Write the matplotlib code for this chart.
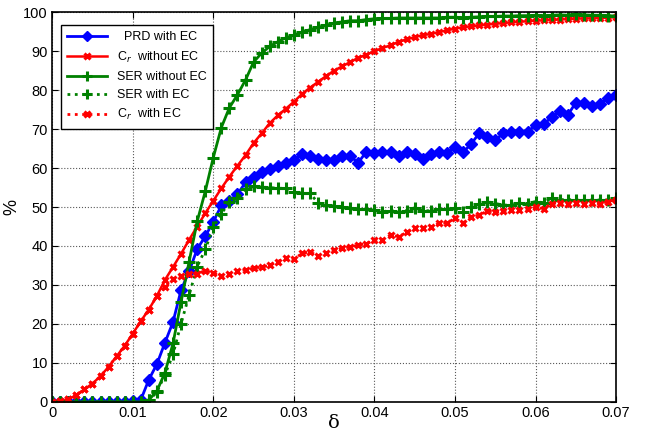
import numpy as np
import matplotlib
matplotlib.use('Agg')
import matplotlib.pyplot as plt

plt.rcParams['font.family'] = ['Liberation Sans', 'DejaVu Sans']

# delta values, step 0.001
delta = np.arange(71) / 1000.0

prd_ec = [0, 0, 0, 0, 0, 0, 0, 0, 0, 0, 0.2,
          0.5, 5.7, 9.7, 15.2, 20.5, 28.7, 33.5, 39.2, 42.5, 46.2,
          50.4, 51.6, 53.3, 56.3, 57.6, 58.9, 59.7, 60.4, 61.3, 62.1,
          63.6, 63.0, 62.3, 62.1, 62.1, 63.1, 63.0, 61.4, 64.2, 63.8,
          64.2, 64.0, 63.0, 64.2, 63.7, 62.2, 63.6, 64.2, 63.8, 65.3,
          64.0, 66.2, 68.9, 68.0, 67.2, 68.9, 69.3, 69.3, 69.3, 71.0,
          71.3, 73.0, 74.7, 73.6, 76.8, 76.6, 75.9, 76.4, 78.1, 78.8]

cr_no_ec = [0, 0.3, 0.7, 1.7, 3.2, 4.7, 6.6, 9.0, 11.7, 14.4, 17.5,
            20.7, 23.7, 27.2, 31.3, 34.6, 38.0, 41.6, 45.0, 48.4, 51.6,
            54.8, 57.8, 60.6, 63.3, 66.4, 68.9, 71.5, 73.5, 75.2, 77.0,
            79.0, 80.6, 82.1, 83.6, 85.0, 86.1, 87.2, 88.3, 89.1, 90.0,
            90.8, 91.5, 92.4, 93.0, 93.6, 94.1, 94.4, 94.9, 95.3, 95.8,
            96.1, 96.4, 96.6, 96.8, 97.0, 97.2, 97.4, 97.5, 97.7, 97.8,
            97.9, 98.0, 98.1, 98.2, 98.3, 98.4, 98.4, 98.5, 98.6, 98.7]

ser_no_ec = [0, 0, 0, 0, 0, 0, 0, 0, 0, 0, 0,
             0, 0.5, 2.8, 7.5, 15.0, 25.7, 36.0, 46.3, 54.0, 62.7,
             70.4, 75.5, 78.8, 82.6, 87.2, 89.5, 91.2, 92.4, 93.4, 94.1,
             94.9, 95.5, 96.1, 96.6, 97.2, 97.5, 97.8, 97.8, 98.1, 98.3,
             98.4, 98.4, 98.5, 98.5, 98.5, 98.5, 98.5, 98.5, 98.7, 98.7,
             98.6, 98.7, 98.8, 98.9, 98.9, 99.0, 99.0, 99.1, 99.1, 99.2,
             99.1, 99.2, 99.3, 99.2, 99.4, 99.3, 99.2, 99.2, 99.1, 99.0]

ser_ec = [0, 0, 0, 0, 0, 0, 0, 0, 0, 0, 0,
          0, 0.4, 2.5, 7.0, 12.2, 20.1, 27.4, 34.7, 39.1, 44.8,
          48.3, 51.2, 52.2, 54.6, 55.3, 55.1, 55.0, 54.8, 54.8, 53.9,
          53.5, 53.5, 51.1, 50.5, 50.3, 50.1, 49.7, 49.4, 49.4, 49.2,
          48.8, 49.1, 48.8, 49.1, 49.8, 49.1, 49.0, 49.4, 49.4, 49.7,
          48.8, 50.1, 50.8, 51.4, 50.9, 50.5, 50.5, 51.1, 50.9, 51.4,
          51.1, 52.2, 51.9, 51.9, 51.8, 51.9, 51.8, 51.8, 51.8, 52.2]

cr_ec = [0, 0.3, 0.7, 1.7, 3.2, 4.7, 6.6, 9.0, 11.7, 14.4, 17.5,
         20.7, 23.7, 27.2, 29.6, 31.5, 32.2, 32.8, 32.9, 33.7, 33.1,
         32.3, 32.9, 33.5, 33.9, 34.3, 34.6, 35.0, 36.0, 37.0, 36.6,
         38.1, 38.5, 37.4, 38.1, 38.9, 39.4, 39.8, 40.2, 40.6, 41.5,
         41.5, 42.8, 42.4, 43.5, 44.6, 44.5, 44.8, 45.8, 45.9, 47.1,
         45.9, 47.5, 47.9, 49.0, 48.7, 48.9, 49.2, 49.2, 49.4, 49.9,
         49.6, 50.9, 51.1, 50.8, 51.1, 50.8, 51.1, 50.8, 51.4, 51.8]

green = (0, 0.5, 0)

fig = plt.figure(figsize=(6.52, 4.34), dpi=100)
ax = fig.add_axes([0.080, 0.074, 0.865, 0.898])

ax.plot(delta, prd_ec, '-', color='b', lw=2, marker='D', ms=6.5, mfc='b', mec='b',
        label='  PRD with EC')
ax.plot(delta, cr_no_ec, '-', color='r', lw=1.8, marker='x', ms=5, mew=2.2,
        label=r'C$_r$  without EC')
ax.plot(delta, ser_no_ec, '-', color=green, lw=2, marker='+', ms=9, mew=2.2,
        label='SER without EC')
ax.plot(delta, ser_ec, ':', color=green, lw=2, marker='+', ms=9, mew=2.2,
        label='SER with EC')
ax.plot(delta, cr_ec, ':', color='r', lw=2, marker='x', ms=5, mew=2.2,
        label=r'C$_r$  with EC')

ax.set_xlim(0, 0.07)
ax.set_ylim(0, 100)
ax.set_xticks(np.arange(0, 0.071, 0.01))
ax.set_xticklabels(['0', '0.01', '0.02', '0.03', '0.04', '0.05', '0.06', '0.07'])
ax.set_yticks(np.arange(0, 101, 10))
ax.tick_params(direction='in', top=True, right=True, labelsize=10.5, length=4, pad=3)
ax.grid(True, linestyle=':', color='0.35', lw=0.8)
for s in ax.spines.values():
    s.set_linewidth(1.2)

ax.set_xlabel('δ', fontsize=14, family=['DejaVu Serif'], labelpad=-4)
ax.set_ylabel('%', fontsize=13, labelpad=2)

leg = ax.legend(loc='upper left', bbox_to_anchor=(0.005, 0.983), fontsize=9,
                fancybox=False, framealpha=1, edgecolor='k', borderpad=0.5,
                handlelength=3.2, markerscale=0.85, numpoints=1, labelspacing=0.5)
leg.get_frame().set_linewidth(1.0)

fig.savefig('out.png', dpi=100)
